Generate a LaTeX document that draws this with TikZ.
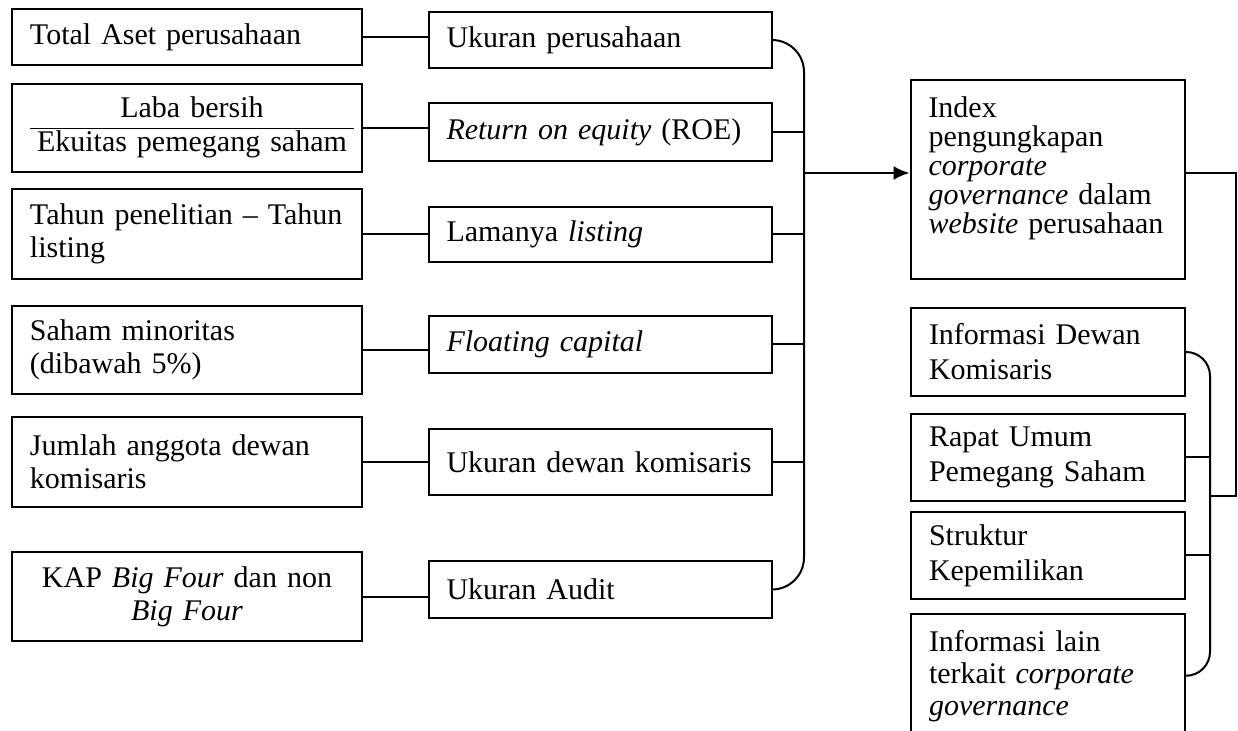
\documentclass[tikz,border=0pt]{standalone}
\usepackage{fontspec}
\setmainfont{Liberation Serif}
\usetikzlibrary{calc, positioning, arrows.meta}

\begin{document}
\begin{tikzpicture}[x=0.5pt, y=-0.5pt, >=Latex, line width=1pt,
  every node/.style={font=\fontsize{15}{16.5}\selectfont},
  srcbox/.style={draw, line width=1pt, minimum width=175pt, text width=157pt, inner xsep=9pt, align=left},
  varbox/.style={draw, line width=1pt, minimum width=171.5pt, text width=153.5pt, inner xsep=9pt, align=left},
  itembox/.style={draw, line width=1pt, minimum width=137pt, text width=119pt, inner xsep=9pt, align=left}]
  \useasboundingbox (0,0) rectangle (1238,731);
  \clip (0,0) rectangle (1238,731);

  % Proxies
  \node[srcbox, minimum height=28pt] (aset) at (187,37) {Total Aset perusahaan};
  \node[srcbox, minimum height=44pt, align=center] (laba) at (187,128)
    {\setlength\tabcolsep{3.5pt}\begin{tabular}{c}Laba bersih\\\hline Ekuitas pemegang saham\end{tabular}};
  \node[srcbox, minimum height=45pt] (tahun) at (187,234) {Tahun penelitian -- Tahun\\listing};
  \node[srcbox, minimum height=44pt] (saham) at (187,350) {Saham minoritas\\(dibawah 5\%)};
  \node[srcbox, minimum height=45pt] (jumlah) at (187,462) {Jumlah anggota dewan\\komisaris};
  \node[srcbox, minimum height=44.5pt, align=center] (kap) at (187,597) {KAP \textit{Big Four} dan non\\\textit{Big Four}};

  % Variables
  \node[varbox, minimum height=28pt] (ukuran) at (600,40) {Ukuran perusahaan};
  \node[varbox, minimum height=29pt] (roe) at (600,132) {\textit{Return on equity} (ROE)};
  \node[varbox, minimum height=27.5pt] (lama) at (600,234.5) {Lamanya \textit{listing}};
  \node[varbox, minimum height=28.5pt] (float) at (600,344.5) {\textit{Floating capital}};
  \node[varbox, minimum height=33pt] (dewan) at (600,462) {Ukuran dewan komisaris};
  \node[varbox, minimum height=28.5pt] (audit) at (600,589.5) {Ukuran Audit};

  % Disclosure index
  \node[itembox, anchor=north, inner ysep=8.5pt, text depth=72pt, font=\fontsize{15}{14.5}\selectfont] (idx) at (1047.5,79)
    {Index\\pengungkapan\\\textit{corporate}\\\textit{governance} dalam\\\textit{website} perusahaan};

  % Index items
  \node[itembox, minimum height=44pt, font=\fontsize{15}{17.5}\selectfont] (kom) at (1048,352) {Informasi Dewan\\Komisaris};
  \node[itembox, minimum height=43.5pt, font=\fontsize{15}{17.5}\selectfont] (rups) at (1048,457.5) {Rapat Umum\\Pemegang Saham};
  \node[itembox, minimum height=43.5pt, font=\fontsize{15}{17.5}\selectfont] (struk) at (1048,555.5) {Struktur\\Kepemilikan};
  \node[itembox, anchor=north, inner ysep=8pt, font=\fontsize{15}{16}\selectfont] (lain) at (1048,613)
    {Informasi lain\\terkait \textit{corporate}\\\textit{governance}};

  % Proxy to variable
  \foreach \a/\b in {aset/ukuran, laba/roe, tahun/lama, saham/float, jumlah/dewan, kap/audit}
    \draw (\a.east) -- (\a.east -| \b.west);

  % Left brace
  \coordinate (brc) at (804,173);
  \draw[rounded corners=16pt] (ukuran.east) -| (brc) |- (audit.east);
  \foreach \n in {roe, lama, float, dewan}
    \draw (\n.east) -- (\n.east -| brc);
  \draw[-{Latex[length=8pt, width=7pt]}] (brc) -- (brc -| idx.west);

  % Right brace
  \coordinate (brr) at (1210,496);
  \coordinate (out) at (1236,173);
  \draw[rounded corners=12pt] (kom.east) -| (brr) |- (lain.east);
  \foreach \n in {rups, struk}
    \draw (\n.east) -- (\n.east -| brr);
  \draw (brr) -| (out) -- (out -| idx.east);
\end{tikzpicture}
\end{document}
